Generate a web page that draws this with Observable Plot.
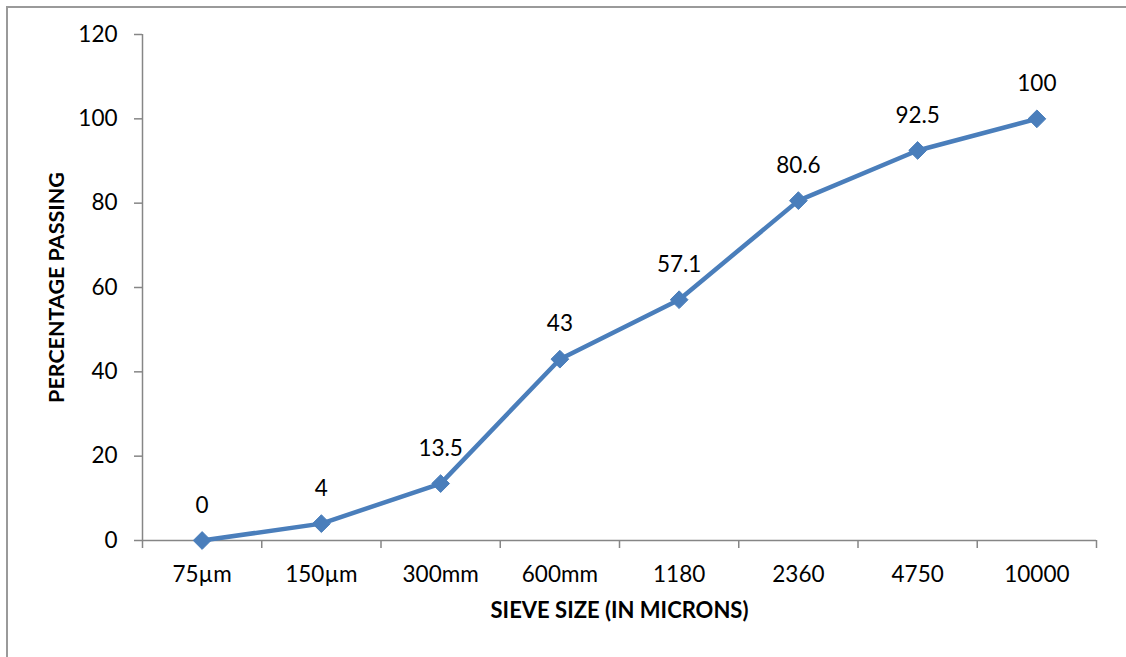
<!DOCTYPE html>
<html>
<head>
<meta charset="utf-8">
<script src="https://cdn.jsdelivr.net/npm/d3@7"></script>
<script src="https://cdn.jsdelivr.net/npm/@observablehq/plot@0.6"></script>
<style>
  html, body { margin: 0; padding: 0; background: #fff; }
  #wrap { position: relative; width: 1126px; height: 657px; overflow: hidden; }
  #border {
    position: absolute; left: 6px; top: 6px; width: 1200px; height: 700px;
    border-top: 2px solid #9a9a9a; border-left: 2px solid #9a9a9a;
    box-sizing: border-box;
  }
  #chart { position: absolute; left: 0; top: 0; }
</style>
</head>
<body>
<div id="wrap">
  <div id="border"></div>
  <div id="chart"></div>
</div>
<script>
// Sieve analysis: cumulative percentage passing per sieve size
const sieveSizes = ["75µm", "150µm", "300mm", "600mm", "1180", "2360", "4750", "10000"];
const percentPassing = [0, 4, 13.5, 43, 57.1, 80.6, 92.5, 100];
const yTicks = [0, 20, 40, 60, 80, 100, 120];

const rows = sieveSizes.map((size, i) => ({size, pos: i + 0.5, value: percentPassing[i]}));
const bandEdges = d3.range(sieveSizes.length + 1);

const blue = "#4a7ebb";
const axisGray = "#868686";
const font = "Lato, 'Open Sans', sans-serif";
const labelSize = 22.5;

const chart = Plot.plot({
  width: 1126,
  height: 657,
  marginLeft: 142,
  marginRight: 30,
  marginTop: 34,
  marginBottom: 117,
  style: {background: "transparent", fontFamily: font, color: "black"},
  x: {type: "linear", domain: [0, sieveSizes.length], axis: null},
  y: {domain: [0, 120], axis: null},
  marks: [
    // axis lines
    Plot.ruleX([0], {stroke: axisGray, strokeWidth: 1.5}),
    Plot.ruleY([0], {stroke: axisGray, strokeWidth: 1.5}),
    // y ticks and labels
    Plot.axisY(yTicks, {
      tickSize: 8, tickPadding: 17, stroke: axisGray, strokeWidth: 1.5,
      fill: "black", fontSize: labelSize, label: null
    }),
    // x tick marks on category boundaries
    Plot.axisX(bandEdges, {
      tickSize: 8, tickFormat: () => "", stroke: axisGray, strokeWidth: 1.5, label: null
    }),
    // category labels at band centres
    Plot.text(rows, {
      x: "pos", text: "size", frameAnchor: "bottom", dy: 34,
      lineAnchor: "middle", fontSize: labelSize, fill: "black"
    }),
    // axis titles
    Plot.text(["SIEVE SIZE (IN MICRONS)"], {
      frameAnchor: "bottom", dy: 70, lineAnchor: "middle", textAnchor: "middle",
      fontSize: 22, fontWeight: "bold", fill: "black"
    }),
    Plot.text(["PERCENTAGE PASSING"], {
      frameAnchor: "left", dx: -85, rotate: -90, lineAnchor: "middle", textAnchor: "middle",
      fontSize: 21.5, fontWeight: "bold", fill: "black"
    }),
    // series
    Plot.line(rows, {x: "pos", y: "value", stroke: blue, strokeWidth: 4.5}),
    Plot.dot(rows, {x: "pos", y: "value", symbol: "diamond2", r: 8, fill: blue, stroke: blue, strokeWidth: 1}),
    Plot.text(rows, {
      x: "pos", y: "value", text: d => String(d.value), dy: -35,
      lineAnchor: "middle", fontSize: labelSize, fill: "black"
    })
  ]
});

document.getElementById("chart").appendChild(chart);
</script>
</body>
</html>
